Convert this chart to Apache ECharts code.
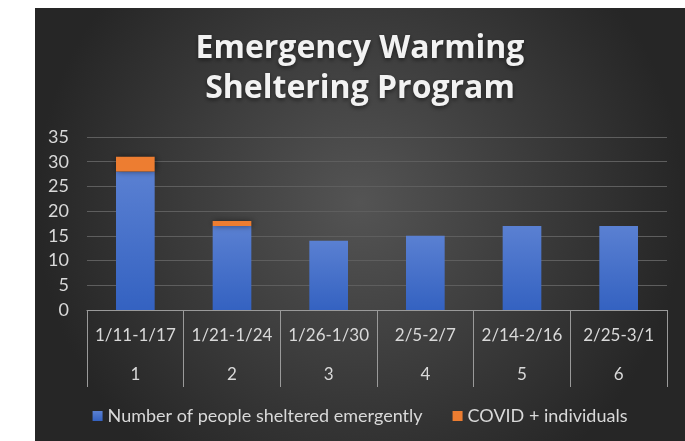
<!DOCTYPE html>
<html>
<head>
<meta charset="utf-8">
<script src="https://cdn.jsdelivr.net/npm/echarts@6/dist/echarts.min.js"></script>
<style>
  html, body { margin: 0; padding: 0; background: #fff; }
  #main { position: absolute; left: 35px; top: 8px; width: 650px; height: 433px; }
</style>
</head>
<body>
<div id="main"></div>
<script>
// data
var weeks = ['1/11-1/17', '1/21-1/24', '1/26-1/30', '2/5-2/7', '2/14-2/16', '2/25-3/1'];
var weekNo = ['1', '2', '3', '4', '5', '6'];
var sheltered = [28, 17, 14, 15, 17, 17];
var covid = [3, 1, 0, 0, 0, 0];
var yTicks = [0, 5, 10, 15, 20, 25, 30, 35];

var txt = '#d9d9d9';
var font = 'Lato';

var chart = echarts.init(document.getElementById('main'));
chart.setOption({
    backgroundColor: {
        type: 'radial', x: 0.5, y: 0.45, r: 0.75,
        colorStops: [
            { offset: 0, color: '#545454' },
            { offset: 1, color: '#262626' }
        ]
    },
    title: {
        text: 'Emergency Warming\nSheltering Program',
        left: 'center',
        top: 16,
        textStyle: {
            color: '#f2f2f2', fontSize: 32, fontWeight: 'bold', fontFamily: 'Open Sans',
            lineHeight: 40,
            textShadowColor: 'rgba(0,0,0,0.5)', textShadowBlur: 4, textShadowOffsetY: 2
        }
    },
    legend: {
        bottom: 11,
        left: 'center',
        itemWidth: 10,
        itemHeight: 10,
        itemGap: 30,
        icon: 'rect',
        textStyle: { color: txt, fontSize: 18, fontFamily: font },
        data: ['Number of people sheltered emergently', 'COVID + individuals']
    },
    grid: { left: 52, right: 18, top: 129, bottom: 131 },
    xAxis: {
        type: 'category',
        data: weeks,
        axisLine: { lineStyle: { color: '#9a9a9a', width: 1 } },
        axisTick: { show: true, length: 77, interval: 0, lineStyle: { color: '#9a9a9a' } },
        axisLabel: {
            interval: 0,
            margin: 6,
            formatter: function (v, i) {
                return '{a|' + v + '}\n{b|' + weekNo[i] + '}';
            },
            rich: {
                a: { color: txt, fontSize: 17, fontFamily: font, lineHeight: 39 },
                b: { color: txt, fontSize: 17, fontFamily: font, lineHeight: 39 }
            }
        }
    },
    yAxis: {
        type: 'value',
        min: yTicks[0],
        max: yTicks[yTicks.length - 1],
        interval: 5,
        axisLine: { show: false },
        axisTick: { show: false },
        splitLine: { lineStyle: { color: '#5e5e5e', width: 1 } },
        axisLabel: { color: txt, fontSize: 18, fontFamily: font, margin: 18 }
    },
    series: [
        {
            name: 'Number of people sheltered emergently',
            type: 'bar',
            stack: 'total',
            barWidth: '40%',
            data: sheltered,
            itemStyle: {
                color: {
                    type: 'linear', x: 0, y: 0, x2: 0, y2: 1,
                    colorStops: [
                        { offset: 0, color: '#5a80d2' },
                        { offset: 1, color: '#3462c1' }
                    ]
                },
                shadowColor: 'rgba(0,0,0,0.5)', shadowBlur: 6, shadowOffsetX: 1
            }
        },
        {
            name: 'COVID + individuals',
            type: 'bar',
            stack: 'total',
            data: covid,
            itemStyle: {
                color: '#ed7d31',
                shadowColor: 'rgba(0,0,0,0.5)', shadowBlur: 6, shadowOffsetX: 1
            }
        }
    ]
});
</script>
</body>
</html>
